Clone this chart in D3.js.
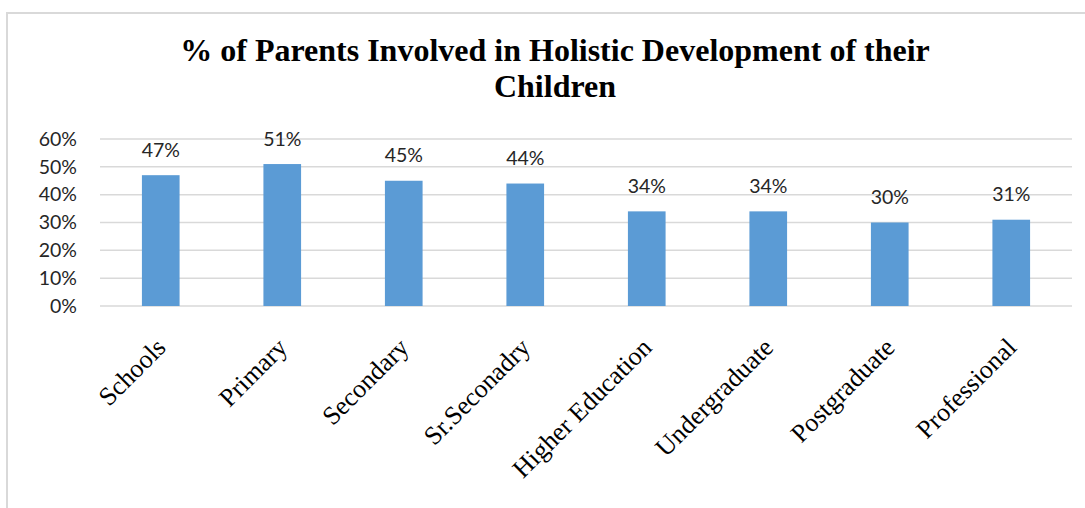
<!DOCTYPE html>
<html><head><meta charset="utf-8">
<script src="https://cdn.jsdelivr.net/npm/d3@7"></script>
<style>body{margin:0;background:#fff}svg{display:block}</style>
</head><body>
<svg id="c" width="1085" height="508"></svg>
<script>
const categories = ["Schools","Primary","Secondary","Sr.Seconadry","Higher Education","Undergraduate","Postgraduate","Professional"];
const values = [47,51,45,44,34,34,30,31];
const yTicks = [0,10,20,30,40,50,60];
const titleLines = ["% of Parents Involved in Holistic Development of their","Children"];

const svg = d3.select("#c");
svg.append("rect").attr("x",7).attr("y",13).attr("width",1200).attr("height",600)
  .attr("fill","none").attr("stroke","#d9d9d9").attr("stroke-width",2);

const m = {l:100, r:1072, t:139, b:306};
const x = d3.scaleBand().domain(categories).range([m.l,m.r]).paddingInner(0.69).paddingOuter(0.345);
const y = d3.scaleLinear().domain([0,60]).range([m.b,m.t]);

svg.append("g").selectAll("line").data(yTicks).join("line")
  .attr("x1",m.l).attr("x2",m.r).attr("y1",d=>y(d)).attr("y2",d=>y(d))
  .attr("stroke","#d9d9d9").attr("stroke-width",1.5);

const ya = svg.append("g").attr("transform",`translate(77,0)`)
  .call(d3.axisLeft(y).tickValues(yTicks).tickSize(0).tickPadding(0).tickFormat(d=>d+"%"));
ya.select(".domain").remove();
ya.selectAll("text").attr("font-family","Lato, 'Open Sans', sans-serif").attr("font-size",19.5).attr("fill","#262626");

svg.append("g").selectAll("rect").data(values).join("rect")
  .attr("x",(d,i)=>x(categories[i])).attr("width",x.bandwidth())
  .attr("y",d=>y(d)).attr("height",d=>y(0)-y(d)).attr("fill","#5b9bd5");

svg.append("g").selectAll("text").data(values).join("text")
  .attr("x",(d,i)=>x(categories[i])+x.bandwidth()/2).attr("y",d=>y(d)-18.5)
  .attr("text-anchor","middle").attr("font-family","Lato, 'Open Sans', sans-serif")
  .attr("font-size",19.5).attr("fill","#262626").text(d=>d+"%");

svg.append("g").selectAll("text").data(categories).join("text")
  .attr("transform",d=>`translate(${x(d)+x.bandwidth()/2+6.5},349) rotate(-45)`)
  .attr("text-anchor","end").attr("font-family","'Liberation Serif', serif")
  .attr("font-size",26).attr("fill","#000").text(d=>d);

svg.append("g").selectAll("text").data(titleLines).join("text")
  .attr("x",555).attr("y",(d,i)=>61+i*36).attr("text-anchor","middle")
  .attr("font-family","'Liberation Serif', serif").attr("font-weight","bold")
  .attr("font-size",32).attr("fill","#000").text(d=>d);
</script>
</body></html>
